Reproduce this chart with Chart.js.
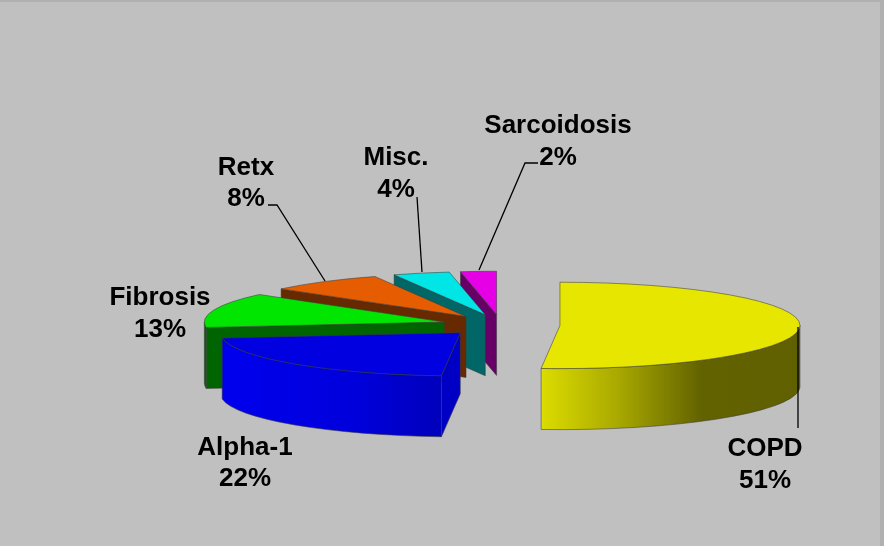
<!DOCTYPE html>
<html>
<head>
<meta charset="utf-8">
<style>html,body{margin:0;padding:0;background:#c0c0c0}canvas{display:block}</style>
<script src="https://cdn.jsdelivr.net/npm/chart.js@4/dist/chart.umd.js"></script>
</head>
<body>
<canvas id="c" width="884" height="546"></canvas>
<script>
const categories = ["COPD", "Alpha-1", "Fibrosis", "Retx", "Misc.", "Sarcoidosis"];
const values = [51.25, 21.75, 13, 7.8, 3.8, 2.4];
const topColors = ["#e6e600", "#0000e0", "#00e600", "#e65c00", "#00e6e6", "#e600e6"];
const faceColors = ["#8a8a00", "#0000c4", "#006400", "#662900", "#006666", "#660066"];
const wallStops = [
  [[0, "#dcdc00"], [0.3, "#a8a800"], [0.62, "#626200"], [1, "#606000"]],
  [[0, "#0000ee"], [0.6, "#0000dc"], [1, "#0000bc"]],
  [[0, "#006400"], [1, "#006400"]],
  [[0, "#662900"], [1, "#662900"]],
  [[0, "#006666"], [1, "#006666"]],
  [[0, "#660066"], [1, "#660066"]]
];
const labelSpots = [
  {x: 765, y: 449, dy: 32},
  {x: 245, y: 448, dy: 31},
  {x: 160, y: 298, dy: 32},
  {x: 246, y: 168, dy: 31},
  {x: 396, y: 158, dy: 32},
  {x: 558, y: 126, dy: 32}
];
const leaders = [
  [[798, 327], [798, 428]],
  [],
  [],
  [[268, 205], [277, 205], [325, 281]],
  [[417, 197], [422, 272]],
  [[538, 163], [525, 163], [479, 270]]
];
const SQUASH = 0.18, EXPLODE = 59, DEPTH = 61;
const EDGE = "rgba(60,60,60,0.55)";

const pie3d = {
  id: "pie3d",
  beforeDraw(chart) {
    const {ctx, width, height} = chart;
    ctx.save();
    ctx.fillStyle = "#b0b0b0";
    ctx.fillRect(0, 0, width, height);
    ctx.fillStyle = "#c0c0c0";
    ctx.fillRect(0, 2, width - 4, height - 2);
    ctx.restore();
  },
  beforeDatasetDraw(chart, args) {
    const {ctx} = chart;
    const arcs = args.meta.data;
    for (let i = arcs.length - 1; i >= 0; i--) {
      const a = arcs[i];
      const s = a.startAngle, e = a.endAngle, r = a.outerRadius;
      const mid = (s + e) / 2;
      const ox = a.x + Math.cos(mid) * EXPLODE;
      const oy = a.y + Math.sin(mid) * EXPLODE * SQUASH;
      const pt = t => [ox + r * Math.cos(t), oy + r * SQUASH * Math.sin(t)];
      ctx.save();
      ctx.lineWidth = 1;
      ctx.strokeStyle = EDGE;
      ctx.lineJoin = "round";
      const face = t => {
        const p = pt(t);
        ctx.beginPath();
        ctx.moveTo(ox, oy);
        ctx.lineTo(p[0], p[1]);
        ctx.lineTo(p[0], p[1] + DEPTH);
        ctx.lineTo(ox, oy + DEPTH);
        ctx.closePath();
        ctx.fillStyle = faceColors[i];
        ctx.fill();
        ctx.stroke();
      };
      if (-Math.cos(s) > 0) face(s);
      if (Math.cos(e) > 0) face(e);
      // outer rim, on the half of the ellipse facing the viewer
      const a0 = Math.max(s, 0), a1 = Math.min(e, Math.PI);
      if (a1 > a0) {
        const p0 = pt(a0), p1 = pt(a1);
        const xs = [];
        for (let k = 0; k <= 40; k++) xs.push(pt(a0 + (a1 - a0) * k / 40)[0]);
        const g = ctx.createLinearGradient(Math.min(...xs), 0, Math.max(...xs), 0);
        wallStops[i].forEach(c => g.addColorStop(c[0], c[1]));
        ctx.beginPath();
        ctx.ellipse(ox, oy, r, r * SQUASH, 0, a0, a1, false);
        ctx.lineTo(p1[0], p1[1] + DEPTH);
        ctx.ellipse(ox, oy + DEPTH, r, r * SQUASH, 0, a1, a0, true);
        ctx.lineTo(p0[0], p0[1]);
        ctx.closePath();
        ctx.fillStyle = g;
        ctx.fill();
        ctx.stroke();
      }
      // top of the slice: the library's own arc element under a squash transform
      ctx.translate(ox, oy);
      ctx.scale(1, SQUASH);
      ctx.translate(-a.x, -a.y);
      a.draw(ctx, chart.chartArea);
      ctx.restore();
      // outline of the top, at an even screen width
      ctx.save();
      ctx.lineWidth = 1;
      ctx.strokeStyle = EDGE;
      ctx.beginPath();
      ctx.moveTo(ox, oy);
      ctx.ellipse(ox, oy, r, r * SQUASH, 0, s, e, false);
      ctx.closePath();
      ctx.stroke();
      ctx.restore();
    }
    return false;
  },
  afterDraw(chart) {
    const {ctx} = chart;
    ctx.save();
    ctx.strokeStyle = "#000";
    ctx.lineWidth = 1.3;
    leaders.forEach(l => {
      if (!l.length) return;
      ctx.beginPath();
      l.forEach((p, j) => j ? ctx.lineTo(p[0], p[1]) : ctx.moveTo(p[0], p[1]));
      ctx.stroke();
    });
    ctx.fillStyle = "#000";
    ctx.font = 'bold 26px "Liberation Sans", Arial, sans-serif';
    ctx.textAlign = "center";
    ctx.textBaseline = "middle";
    categories.forEach((name, i) => {
      const p = labelSpots[i];
      ctx.fillText(name, p.x, p.y);
      ctx.fillText(Math.round(values[i]) + "%", p.x, p.y + p.dy);
    });
    ctx.restore();
  }
};

new Chart(document.getElementById("c"), {
  type: "pie",
  data: {
    labels: categories,
    datasets: [{
      data: values,
      backgroundColor: topColors,
      borderWidth: 0,
      clip: false
    }]
  },
  options: {
    responsive: false,
    animation: false,
    radius: 240,
    rotation: 0,
    layout: {padding: {left: 118, top: 104}},
    plugins: {legend: {display: false}, tooltip: {enabled: false}}
  },
  plugins: [pie3d]
});
</script>
</body>
</html>
